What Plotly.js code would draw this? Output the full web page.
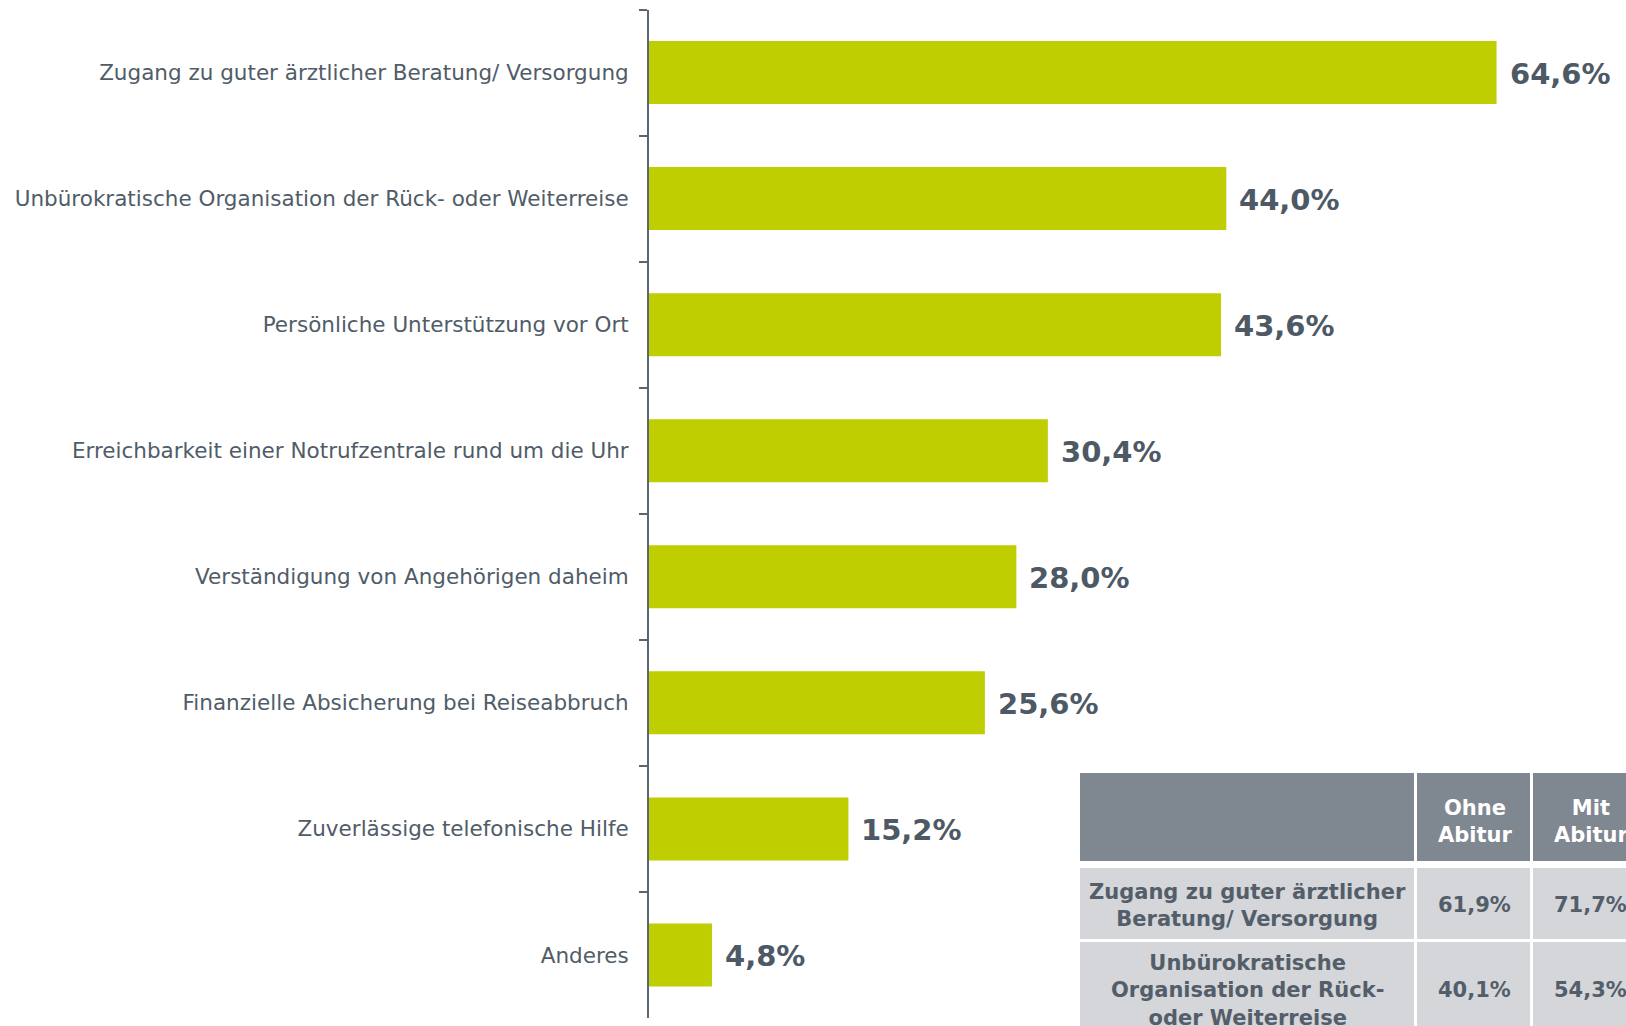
<!DOCTYPE html>
<html>
<head>
<meta charset="utf-8">
<script src="https://cdn.plot.ly/plotly-3.0.1.min.js"></script>
<style>
html,body{margin:0;padding:0;overflow:hidden;background:#fff;}
#chart{width:1700px;height:1060px;}
</style>
</head>
<body>
<div id="chart"></div>
<script>
// ---- data ----
var categories = [
  "Zugang zu guter ärztlicher Beratung/ Versorgung",
  "Unbürokratische Organisation der Rück- oder Weiterreise",
  "Persönliche Unterstützung vor Ort",
  "Erreichbarkeit einer Notrufzentrale rund um die Uhr",
  "Verständigung von Angehörigen daheim",
  "Finanzielle Absicherung bei Reiseabbruch",
  "Zuverlässige telefonische Hilfe",
  "Anderes"
];
var values = [64.6, 44.0, 43.6, 30.4, 28.0, 25.6, 15.2, 4.8];

var tableHeader = ["", "Ohne<br>Abitur", "Mit<br>Abitur"];
var tableRowLabels = ["Zugang zu guter ärztlicher<br>Beratung/ Versorgung", "Unbürokratische<br>Organisation der Rück-<br>oder Weiterreise"];
var ohneAbitur = ["61,9%", "40,1%"];
var mitAbitur = ["71,7%", "54,3%"];

// ---- styles / geometry ----
var W = 1700, H = 1060;
var textColor = "#505c68";
var fmt = function(v){ return v.toFixed(1).replace(".", ",") + "%"; };
var px = function(x){ return x / W; };
var py = function(y){ return (H - y) / H; };

var barTrace = {
  type: "bar",
  orientation: "h",
  x: values,
  y: categories,
  marker: {color: "#bfce00"},
  hoverinfo: "skip",
  xaxis: "x", yaxis: "y"
};

// table geometry (pixels)
var colEdges = [1078, 1416.5, 1532.7, 1649];
var rowEdges = [[771.1, 862.3], [866.5, 940], [940, 1060]];
var colWidths = [colEdges[1] - colEdges[0], colEdges[2] - colEdges[1], colEdges[3] - colEdges[2]];
var rowFills = ["#7f8790", "#d4d6d9", "#d4d6d9"];
var rowCenters = [821, 905, 990];

var tableRows = [tableHeader];
for (var r = 0; r < tableRowLabels.length; r++) {
  tableRows.push([tableRowLabels[r], ohneAbitur[r], mitAbitur[r]]);
}

var tableTraces = tableRows.map(function(row, i){
  var h = rowEdges[i][1] - rowEdges[i][0];
  return {
    type: "table",
    domain: {x: [px(colEdges[0]), px(colEdges[3])], y: [py(rowEdges[i][1]), py(rowEdges[i][0])]},
    columnwidth: colWidths,
    header: {
      values: ["", "", ""],
      height: h,
      fill: {color: rowFills[i]},
      line: {color: "#ffffff", width: 3}
    },
    cells: {values: [[], [], []]}
  };
});

var annotations = values.map(function(v, i){
  return {
    x: v, y: categories[i], xref: "x", yref: "y",
    text: fmt(v), showarrow: false,
    xanchor: "left", yanchor: "middle", xshift: 11, yshift: -1,
    font: {family: "DejaVu Sans", size: 29, color: "#4d5965", weight: "bold"}
  };
});

tableRows.forEach(function(row, i){
  row.forEach(function(txt, j){
    if (!txt) return;
    annotations.push({
      x: px((colEdges[j] + colEdges[j + 1]) / 2), y: py(rowCenters[i]),
      xref: "paper", yref: "paper",
      text: txt, showarrow: false, align: "center",
      xanchor: "center", yanchor: "middle",
      font: {family: "DejaVu Sans", size: 21, color: i === 0 ? "#ffffff" : "#535e6a", weight: "bold"}
    });
  });
});

var xStart = 649, xEnd = 1600, pxPerUnit = 13.12;

var layout = {
  width: W, height: H,
  margin: {l: 0, r: 0, t: 0, b: 0},
  paper_bgcolor: "#ffffff",
  plot_bgcolor: "#ffffff",
  showlegend: false,
  bargap: 0.5,
  xaxis: {
    domain: [px(xStart), px(xEnd)],
    range: [0, (xEnd - xStart) / pxPerUnit],
    visible: false,
    fixedrange: true
  },
  yaxis: {
    domain: [py(1018), py(9.5)],
    type: "category",
    autorange: "reversed",
    tickson: "boundaries",
    ticks: "outside",
    ticklen: 8,
    tickwidth: 2,
    tickcolor: "#5a6570",
    showline: true,
    linecolor: "#5a6570",
    linewidth: 2,
    showgrid: false,
    zeroline: false,
    ticklabelstandoff: 14,
    tickfont: {family: "DejaVu Sans", size: 21.5, color: textColor},
    fixedrange: true
  },
  annotations: annotations
};

Plotly.newPlot("chart", [barTrace].concat(tableTraces), layout, {displayModeBar: false, staticPlot: true});
</script>
</body>
</html>
